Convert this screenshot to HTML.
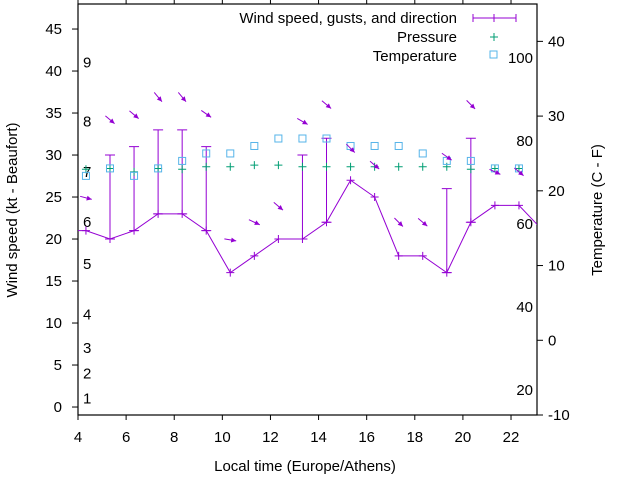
<!DOCTYPE html>
<html><head><meta charset="utf-8"><style>
body{margin:0;background:#fff}
svg{display:block;font-family:"Liberation Sans",Arial,sans-serif}
text{fill:#000}
</style></head><body>
<svg id="chart" width="640" height="480" viewBox="0 0 640 480" xmlns="http://www.w3.org/2000/svg">
<g id="grid"></g>
<g id="marks"></g>
<text font-size="15" text-anchor="middle" transform="translate(17,210) rotate(-90)">Wind speed (kt - Beaufort)</text>
<text font-size="15" text-anchor="middle" transform="translate(602,210) rotate(-90)">Temperature (C - F)</text>
<text font-size="15" text-anchor="middle" x="305" y="471">Local time (Europe/Athens)</text>
<g font-size="15" text-anchor="end">
<text x="457" y="23">Wind speed, gusts, and direction</text>
<text x="457" y="42">Pressure</text>
<text x="457" y="61">Temperature</text>
<g stroke="#9400d3" stroke-width="1"><line x1="473" y1="18" x2="516" y2="18"/><line x1="473" y1="14" x2="473" y2="22"/><line x1="516" y1="14" x2="516" y2="22"/><line x1="494" y1="14" x2="494" y2="22"/></g>
<g stroke="#009e73"><line x1="490" y1="37" x2="498" y2="37"/><line x1="494" y1="33" x2="494" y2="41"/></g>
<rect x="490" y="51" width="7" height="7" fill="none" stroke="#56b4e9"/>
</g>
</svg>
<script>
const times=[3.33,4.33,5.33,6.33,7.33,8.33,9.33,10.33,11.33,12.33,13.33,14.33,15.33,16.33,17.33,18.33,19.33,20.33,21.33,22.33,23.33];
const wind=[21,21,20,21,23,23,21,16,18,20,20,22,27,25,18,18,16,22,24,24,21];
const gust=[null,null,30,31,33,33,31,null,null,null,30,32,null,null,null,null,26,32,null,null,null];
const ptimes=[4.33,5.33,6.33,7.33,8.33,9.33,10.33,11.33,12.33,13.33,14.33,15.33,16.33,17.33,18.33,19.33,20.33,21.33,22.33];
const pressure=[28.3,28.4,28.0,28.4,28.3,28.6,28.6,28.8,28.8,28.6,28.6,28.6,28.6,28.6,28.6,28.6,28.3,28.4,28.4];
const temperature=[22,23,22,23,24,25,25,26,27,27,27,26,26,26,25,24,24,23,23];
const arrowY=[24.9,34.2,34.8,36.9,36.9,34.9,19.9,22,23.9,34,36,30.8,28.8,22,22,29.8,36,28,28];
const arrowAng=[15,40,40,50,50,35,10,25,40,30,40,45,40,45,40,35,45,25,40];
const xTicks=[4,6,8,10,12,14,16,18,20,22];
const yTicks=[0,5,10,15,20,25,30,35,40,45];
const y2Ticks=[-10,0,10,20,30,40];
const bftLabels=["1","2","3","4","5","6","7","8","9"];
const bftKt=[1,4,7,11,17,22,28,34,41];
const fLabels=["20","40","60","80","100"];
const fVals=[20,40,60,80,100];
const L=78,R=537,T=4,B=415;
const X=v=>L+(v-4)*(R-L)/19.08;
const Y=v=>B-(v+0.95)*(B-T)/48.93;
const Y2=v=>B-(v+10)*(B-T)/55;
const NS="http://www.w3.org/2000/svg";
const grid=document.getElementById('grid'),marks=document.getElementById('marks');
function mk(p,tag,a){const e=document.createElementNS(NS,tag);for(const k in a)e.setAttribute(k,a[k]);p.appendChild(e);return e;}
const fr=mk(grid,'rect',{x:L,y:T,width:R-L,height:B-T,fill:'none',stroke:'#000','stroke-width':1.2});


xTicks.forEach(t=>{const x=X(t);
 const a=mk(grid,'line',{x1:x,y1:B,x2:x,y2:B+5,stroke:'#000'});
 
 
 mk(grid,'line',{x1:x,y1:T,x2:x,y2:T-5,stroke:'#000'});
 const tx=mk(grid,'text',{x:x,y:442,'font-size':15,'text-anchor':'middle'});tx.textContent=t;
 
 });
yTicks.forEach(t=>{const y=Y(t);
 mk(grid,'line',{x1:L-6,y1:y,x2:L,y2:y,stroke:'#000'});
 const tx=mk(grid,'text',{x:62,y:y+5,'font-size':15,'text-anchor':'end'});tx.textContent=t;
 
 });
y2Ticks.forEach(t=>{const y=Y2(t);
 mk(grid,'line',{x1:R,y1:y,x2:R+6,y2:y,stroke:'#000'});
 const tx=mk(grid,'text',{x:548,y:y+5,'font-size':15});tx.textContent=t;
 
 });
bftLabels.forEach((s,i)=>{const tx=mk(grid,'text',{x:83,y:Y(bftKt[i])+5,'font-size':15});tx.textContent=s;
 
 });
fLabels.forEach((s,i)=>{const tx=mk(grid,'text',{x:533,y:Y2((fVals[i]-32)*5/9)+5,'font-size':15,'text-anchor':'end'});tx.textContent=s;
 
 });
const defs=mk(marks,'defs',{});const cp=mk(defs,'clipPath',{id:'cp'});mk(cp,'rect',{x:L,y:T,width:R-L,height:B-T});
const g=mk(marks,'g',{'clip-path':'url(#cp)'});
const pl=mk(g,'polyline',{points:times.map((t,i)=>X(t)+','+Y(wind[i])).join(' '),fill:'none',stroke:'#9400d3','stroke-width':1});


times.forEach((t,i)=>{const x=X(t),y=Y(wind[i]);
 const c=mk(g,'path',{d:`M${x-4},${y}H${x+4}M${x},${y-4}V${y+4}`,stroke:'#9400d3'});
 
 
 if(gust[i]!=null){const gy=Y(gust[i]);
  const b=mk(g,'path',{d:`M${x},${y}V${gy}M${x-5},${gy}H${x+5}M${x-5},${y}H${x+5}`,stroke:'#9400d3',fill:'none'});
  
  }});
ptimes.forEach((t,i)=>{const x=X(t),y=Y(pressure[i]);
 const p=mk(g,'path',{d:`M${x-4},${y}H${x+4}M${x},${y-4}V${y+4}`,stroke:'#009e73'});
 
 
 const ty=Y2(temperature[i]);
 const s=mk(g,'rect',{x:x-3.5,y:ty-3.5,width:7,height:7,fill:'none',stroke:'#56b4e9'});
 
 
 const a=arrowAng[i]*Math.PI/180,dx=Math.cos(a)*6,dy=Math.sin(a)*6,ay=Y(arrowY[i]);
 const hx=x+dx,hy=ay+dy,ux=Math.cos(a),uy=Math.sin(a);
 const ar=mk(g,'g',{});
 
 
 mk(ar,'line',{x1:x-dx,y1:ay-dy,x2:hx,y2:hy,stroke:'#9400d3'});
 mk(ar,'polygon',{points:`${hx},${hy} ${hx-5*ux+2.5*uy},${hy-5*uy-2.5*ux} ${hx-5*ux-2.5*uy},${hy-5*uy+2.5*ux}`,fill:'#9400d3'});
});
</script>
</body></html>
